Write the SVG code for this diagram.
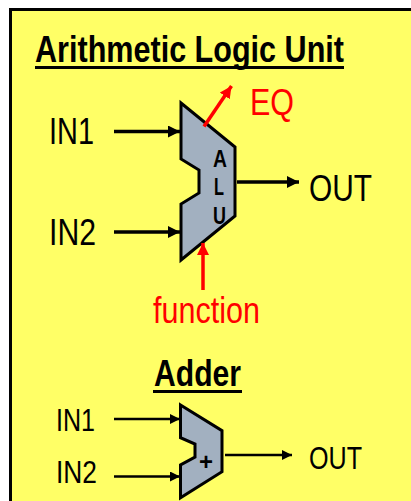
<svg xmlns="http://www.w3.org/2000/svg" width="411" height="501" viewBox="0 0 411 501">
<style>
text{font-family:"Liberation Sans",Arial,sans-serif;fill:#000}
.t{font-weight:700;font-size:36px}
.b{font-size:37px}
.s{font-size:30.500px}
.r{fill:#f00}
.l{font-weight:700;font-size:23px}
.n{fill:#a2b0c0;stroke:#000;stroke-linejoin:miter}
.c{fill:none;stroke:#000}
.u{fill:#000}
</style>
<defs>
<marker id="ak" markerUnits="userSpaceOnUse" markerWidth="12" markerHeight="12" refX="12" refY="6" orient="auto" viewBox="0 0 12 12"><path d="M0 0L12 6L0 12z" fill="#000"/></marker>
<marker id="ar" markerUnits="userSpaceOnUse" markerWidth="12" markerHeight="12" refX="12" refY="6" orient="auto" viewBox="0 0 12 12"><path d="M0 0L12 6L0 12z" fill="#f00"/></marker>
<marker id="as" markerUnits="userSpaceOnUse" markerWidth="10" markerHeight="10" refX="10" refY="5" orient="auto" viewBox="0 0 10 10"><path d="M0 0L10 5L0 10z" fill="#000"/></marker>
</defs>
<rect x="0" y="0" width="411" height="501" fill="#fff"/>
<rect id="panel" x="10.500" y="9.500" width="420" height="510" fill="#ffff66" stroke="#000" stroke-width="3"/>
<g id="titles">
<text class="t" x="35" y="62" textLength="309" lengthAdjust="spacingAndGlyphs">Arithmetic Logic Unit</text><rect class="u" x="35" y="66" width="309" height="3"/>
<text class="t" x="154" y="386" textLength="87" lengthAdjust="spacingAndGlyphs">Adder</text><rect class="u" x="153" y="390" width="89" height="3"/>
</g>
<g id="alu"><path class="n" stroke-width="3" d="M181 103L235 147V216L181 260V204L199 193V170L181 159Z"/>
<text class="l" x="213" y="167" textLength="14" lengthAdjust="spacingAndGlyphs">A</text><text class="l" x="214" y="195" textLength="10" lengthAdjust="spacingAndGlyphs">L</text><text class="l" x="213" y="224" textLength="13" lengthAdjust="spacingAndGlyphs">U</text></g>
<g id="adder"><path class="n" stroke-width="3" d="M180.500 405L222 430.700V471.700L180.500 497.700V465L195 457V444L180.500 437.700Z"/>
<text x="206" y="469.500" font-size="24" font-weight="700" text-anchor="middle">+</text></g>
<g id="connectors">
<path class="c" stroke-width="3.500" marker-end="url(#ak)" d="M114 131.500H180"/>
<path class="c" stroke-width="3.500" marker-end="url(#ak)" d="M114 232H180"/>
<path class="c" stroke-width="3.500" marker-end="url(#ak)" d="M237 182H299"/>
<path class="c" stroke-width="3.500" style="stroke:#f00" marker-end="url(#ar)" d="M204 126.500L231.500 86"/>
<path class="c" stroke-width="3.500" style="stroke:#f00" marker-end="url(#ar)" d="M203 290V243"/>
<path class="c" stroke-width="2.500" marker-end="url(#as)" d="M114 419H180"/>
<path class="c" stroke-width="2.500" marker-end="url(#as)" d="M114 476.500H180"/>
<path class="c" stroke-width="2.500" marker-end="url(#as)" d="M225 455H292"/>
</g>
<g id="labels">
<text class="b" x="49" y="144" textLength="45" lengthAdjust="spacingAndGlyphs">IN1</text>
<text class="b" x="49" y="245" textLength="47" lengthAdjust="spacingAndGlyphs">IN2</text>
<text class="b r" x="250" y="115" textLength="44" lengthAdjust="spacingAndGlyphs">EQ</text>
<text class="b" x="309" y="201" textLength="63" lengthAdjust="spacingAndGlyphs">OUT</text>
<text class="b r" x="153" y="323" textLength="107" lengthAdjust="spacingAndGlyphs">function</text>
<text class="s" x="56" y="431" textLength="39" lengthAdjust="spacingAndGlyphs">IN1</text>
<text class="s" x="56" y="483" textLength="41" lengthAdjust="spacingAndGlyphs">IN2</text>
<text class="s" x="309" y="469" textLength="53" lengthAdjust="spacingAndGlyphs">OUT</text>
</g>
</svg>
